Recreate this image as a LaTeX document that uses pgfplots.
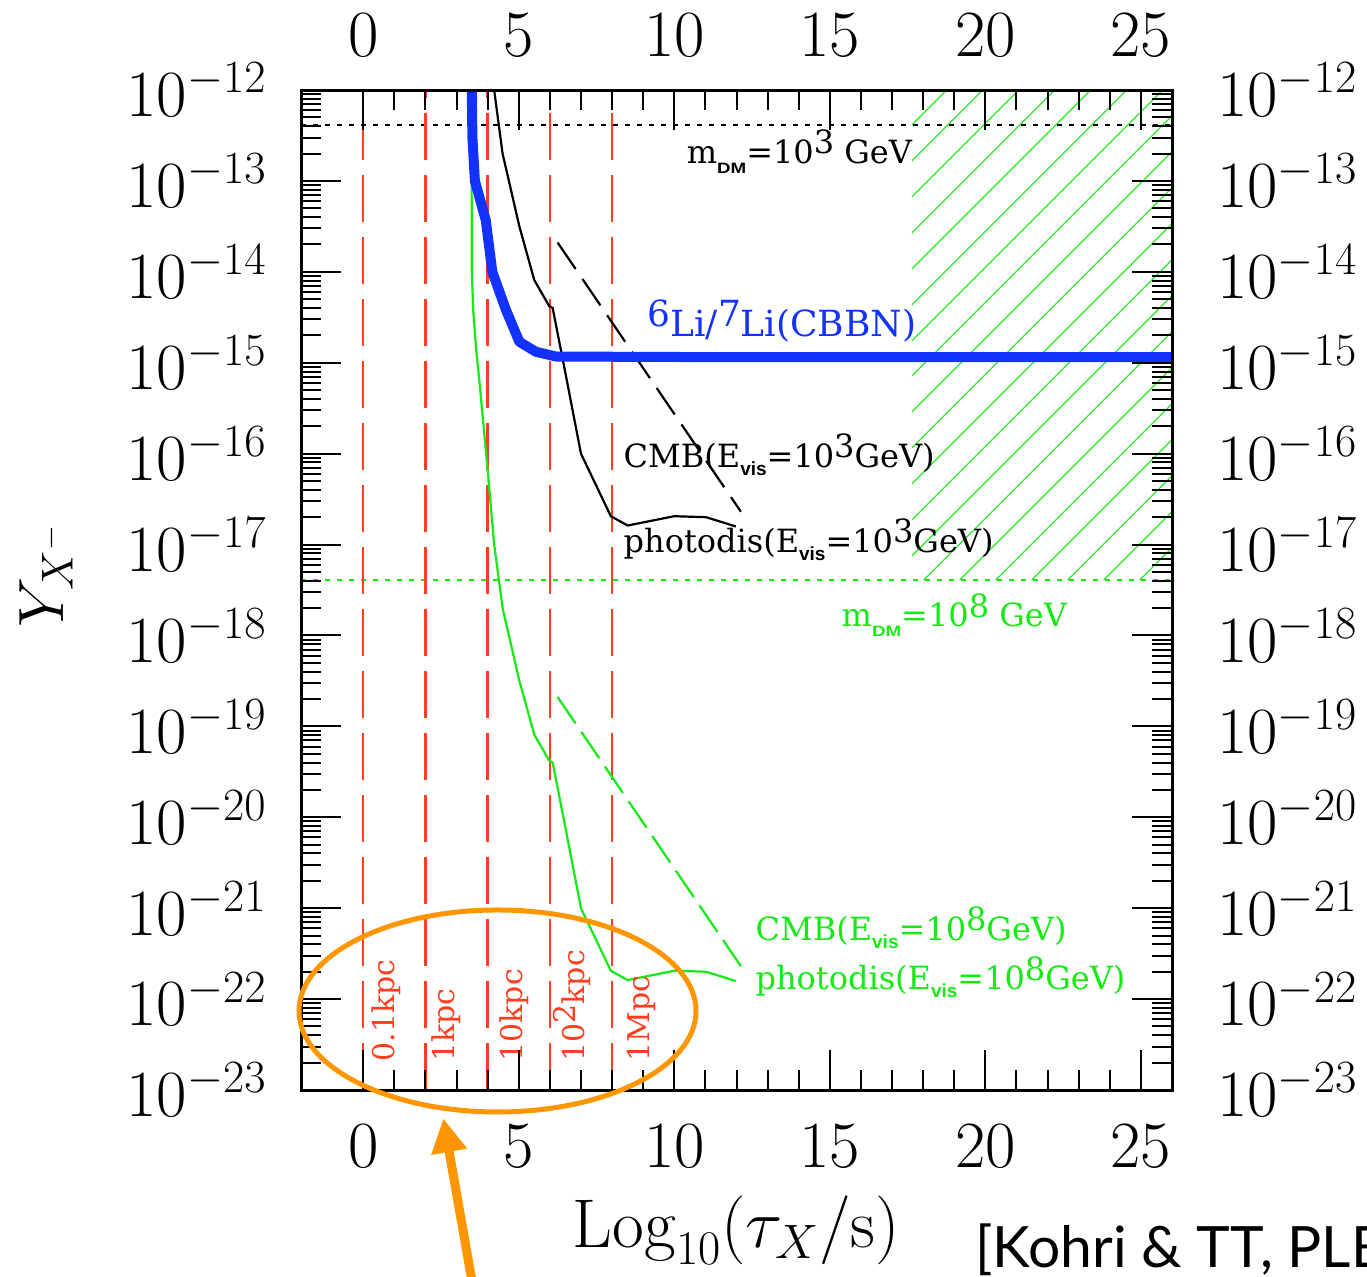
\documentclass[border=0pt]{standalone}
\usepackage{fix-cm}
\usepackage{fontspec}
\usepackage{pgfplots}
\pgfplotsset{compat=1.18}
\usetikzlibrary{patterns.meta,arrows.meta}
\newfontfamily\hel{Liberation Sans}
\newfontfamily\lato{Lato}
\newfontfamily\dvs{DejaVu Serif}
\definecolor{redl}{RGB}{255,61,31}
\definecolor{grn}{RGB}{20,235,20}
\definecolor{blu}{RGB}{20,50,255}
\definecolor{org}{RGB}{255,150,0}
\newcommand\up[1]{\raisebox{0.3em}{#1}}
\newcommand\sbs[1]{\raisebox{-4pt}{\hel\bfseries\fontsize{9.5}{9.5}\selectfont #1}}
\newcommand\dm{\raisebox{-5pt}{\hel\bfseries\fontsize{7.5}{8}\selectfont\scalebox{1.25}[1]{DM}}}
\begin{document}
\begin{tikzpicture}
\begin{axis}[
  scale only axis, width=435.5pt, height=500pt,
  at={(150.5pt,93.5pt)}, anchor=south west,
  xmin=-2, xmax=26, ymode=log, ymin=1e-23, ymax=1e-12,
  xtick={0,5,...,25}, minor x tick num=4,
  ytickten={-23,-22,...,-12},
  major tick length=20pt, minor tick length=10pt,
  tick style={line width=1pt, black},
  axis line style={line width=1.5pt},
  tick label style={font=\fontsize{33}{36}\selectfont, inner sep=0pt},
  xticklabel style={yshift=-17.5pt},
  yticklabel style={xshift=-17pt},
  axis on top,
]
% hatched region
\addplot[draw=none, pattern={Lines[angle=45,distance=13pt,line width=0.6pt]}, pattern color=grn]
  coordinates {(17.64,4.1e-18) (26,4.1e-18) (26,1e-12) (17.64,1e-12)} -- cycle;
% dotted m_DM lines
\addplot[black, line width=1pt, dash pattern=on 2.5pt off 3.5pt] coordinates {(-2,4.1e-13) (26,4.1e-13)};
\addplot[grn, line width=1.2pt, dash pattern=on 2.5pt off 3.5pt] coordinates {(-2,4.1e-18) (26,4.1e-18)};
% red distance lines
\addplot[redl, line width=1.2pt, dash pattern=on 23.5pt off 7.5pt] coordinates {(0,1e-23) (0,1e-12)};
\addplot[redl, line width=1.2pt, dash pattern=on 23.5pt off 7.5pt] coordinates {(2,1e-23) (2,1e-12)};
\addplot[redl, line width=1.2pt, dash pattern=on 23.5pt off 7.5pt] coordinates {(4,1e-23) (4,1e-12)};
\addplot[redl, line width=1.2pt, dash pattern=on 23.5pt off 7.5pt] coordinates {(6,1e-23) (6,1e-12)};
\addplot[redl, line width=1.2pt, dash pattern=on 23.5pt off 7.5pt] coordinates {(8,1e-23) (8,1e-12)};
% black: photodis and CMB (E=10^3 GeV)
\addplot[black, line width=1.1pt] coordinates {
(4.21,1e-12) (4.48,2.0e-13) (5.02,3.16e-14) (5.5,8.1e-15) (5.98,4.2e-15) (6.09,4.0e-15)
(6.52,7.1e-16) (7.0,1.0e-16) (7.96,2.05e-17) (8.5,1.62e-17) (10.0,2.05e-17) (11.02,2.0e-17) (11.98,1.58e-17)};
\addplot[black, line width=1.1pt, dash pattern=on 16pt off 6pt] coordinates {(6.25,2.1e-14) (12.14,2.3e-17)};
% green: photodis and CMB (E=10^8 GeV)
\addplot[grn, line width=1.1pt] coordinates {
(3.48,1e-12) (3.49,1.0e-14) (3.54,3.6e-15) (3.63,1.4e-15) (3.73,6.5e-16) (4.0,6.6e-17) (4.21,1e-17)
(4.48,2.0e-18) (5.02,3.16e-19) (5.5,8.1e-20) (5.98,4.2e-20) (6.09,4.0e-20)
(6.52,7.1e-21) (7.0,1.0e-21) (7.96,2.05e-22) (8.5,1.62e-22) (10.0,2.05e-22) (11.02,2.0e-22) (11.98,1.58e-22)};
\addplot[grn, line width=1.1pt, dash pattern=on 16pt off 5pt] coordinates {(6.25,2.1e-19) (12.14,2.3e-22)};
% blue CBBN
\addplot[blu, line width=5pt, line join=round] coordinates {
(3.49,1e-12) (3.51,3e-13) (3.59,1.0e-13) (3.94,3.7e-14) (4.15,1.0e-14) (4.59,3.8e-15)
(5.02,1.7e-15) (5.55,1.32e-15) (6.2,1.17e-15) (12,1.15e-15) (26,1.15e-15)};
% texts
\node[anchor=base west, inner sep=0pt, font=\dvs\fontsize{16}{18}\selectfont] at (axis cs:10.39,1.57e-13) {m\dm=10\up{3} GeV};
\node[anchor=base west, inner sep=0pt, text=blu, font=\dvs\fontsize{18}{21}\selectfont] at (axis cs:9.13,1.92e-15) {\up{6}Li/\up{7}Li(CBBN)};
\node[anchor=base west, inner sep=0pt, font=\dvs\fontsize{16}{18}\selectfont] at (axis cs:8.36,7.13e-17) {CMB(E\sbs{vis}=10\up{3}GeV)};
\node[anchor=base west, inner sep=0pt, font=\dvs\fontsize{16}{18}\selectfont] at (axis cs:8.36,8.28e-18) {photodis(E\sbs{vis}=10\up{3}GeV)};
\node[anchor=base west, inner sep=0pt, text=grn, font=\dvs\fontsize{16}{18}\selectfont] at (axis cs:15.37,1.24e-18) {m\dm=10\up{8} GeV};
\node[anchor=base west, inner sep=0pt, text=grn, font=\dvs\fontsize{16}{18}\selectfont] at (axis cs:12.60,4.46e-22) {CMB(E\sbs{vis}=10\up{8}GeV)};
\node[anchor=base west, inner sep=0pt, text=grn, font=\dvs\fontsize{16}{18}\selectfont] at (axis cs:12.60,1.26e-22) {photodis(E\sbs{vis}=10\up{8}GeV)};
% red distance labels
\node[rotate=90, anchor=north west, inner sep=0pt, text=redl, font=\dvs\fontsize{15}{17}\selectfont] at (axis cs:0.247,2.04e-23) {0.1kpc};
\node[rotate=90, anchor=north west, inner sep=0pt, text=redl, font=\dvs\fontsize{15}{17}\selectfont] at (axis cs:2.20,2.04e-23) {1kpc};
\node[rotate=90, anchor=north west, inner sep=0pt, text=redl, font=\dvs\fontsize{15}{17}\selectfont] at (axis cs:4.38,2.04e-23) {10kpc};
\node[rotate=90, anchor=north west, inner sep=0pt, text=redl, font=\dvs\fontsize{15}{17}\selectfont] at (axis cs:6.08,2.04e-23) {10\up{2}kpc};
\node[rotate=90, anchor=north west, inner sep=0pt, text=redl, font=\dvs\fontsize{15}{17}\selectfont] at (axis cs:8.46,2.04e-23) {1Mpc};
\end{axis}
\begin{axis}[
  scale only axis, width=435.5pt, height=500pt,
  at={(150.5pt,93.5pt)}, anchor=south west,
  xmin=-2, xmax=26, ymode=log, ymin=1e-23, ymax=1e-12,
  xtick={0,5,...,25},
  ytickten={-23,-22,...,-12},
  xticklabel pos=right, yticklabel pos=right,
  axis line style={draw=none},
  major tick length=0pt, minor tick length=0pt,
  tick style={draw=none},
  tick label style={font=\fontsize{33}{36}\selectfont, inner sep=0pt},
  xticklabel style={yshift=16.5pt},
  yticklabel style={xshift=22.5pt},
]
\end{axis}
\node[rotate=90, anchor=base, inner sep=0pt, font=\fontsize{32}{34}\selectfont] at (31.5pt,350.75pt) {$Y_{X^-}$};
\node[anchor=base, inner sep=0pt, font=\fontsize{34.5}{37}\selectfont] at (368.25pt,14.5pt) {$\mathrm{Log}_{10}(\tau_X/\mathrm{s})$};
\node[anchor=base west, inner sep=0pt, font=\lato\fontsize{28.5}{30}\selectfont] at (487.5pt,4.5pt) {[Kohri \& TT, PLB]};
\draw[org, line width=2.5pt] (248.75pt,133pt) ellipse [x radius=99.25pt, y radius=50.5pt];
\draw[org, line width=4.5pt, -{Triangle[length=17pt,width=17pt]}] (236.5pt,-5pt) -- (221.65pt,79.35pt);
\pgfresetboundingbox
\useasboundingbox (0,0) rectangle (683.5pt,638.5pt);
\end{tikzpicture}
\end{document}
